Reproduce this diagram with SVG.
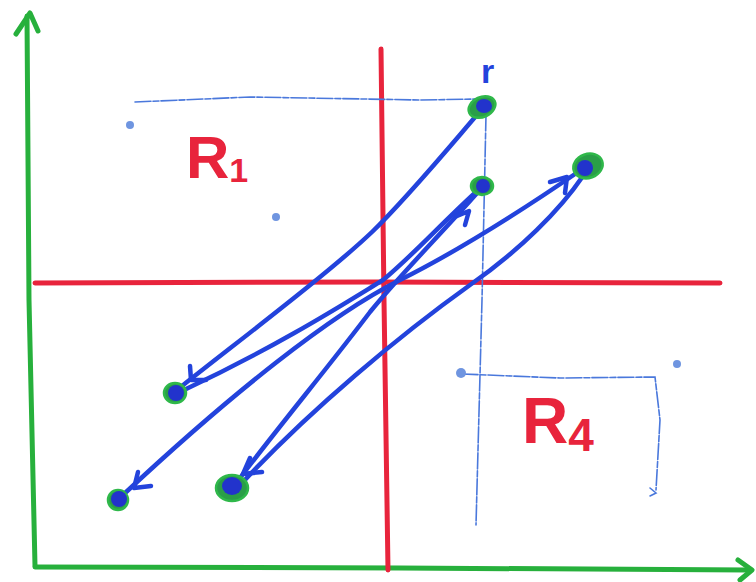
<svg xmlns="http://www.w3.org/2000/svg" width="756" height="582" viewBox="0 0 756 582">
<style>
.axis{fill:none;stroke:#27b03c;stroke-width:5;stroke-linecap:round;stroke-linejoin:round}
.red{fill:none;stroke:#e8243c;stroke-width:5;stroke-linecap:round}
.guide{fill:none;stroke:#4a78dc;stroke-width:1.6;stroke-dasharray:16 2 6 2;stroke-linecap:round}
.edge{fill:none;stroke:#2343dc;stroke-width:4.5;stroke-linecap:round;stroke-linejoin:round}
.head{fill:none;stroke:#2343dc;stroke-width:4.5;stroke-linecap:round;stroke-linejoin:round}
.ring{fill:#2a9e48;stroke:#2fb84a;stroke-width:2.5}
.core{fill:#2233cc}
.dot{fill:#6f95e0}
.lbl{font-family:"Liberation Sans",Arial,sans-serif;font-weight:bold;fill:#e8243c}
</style>
<rect width="756" height="582" fill="#ffffff"/>
<g id="axes">
<path class="axis" d="M27,16 L29,300 L35,566"/>
<path class="axis" d="M16,34 L30,13 L38,31"/>
<path class="axis" d="M35,567 L400,568 L748,570"/>
<path class="axis" d="M738,560 L752,570 L740,580"/>
</g>
<g id="quadrant-lines">
<path class="red" d="M381,49 L384,300 L388,570"/>
<path class="red" d="M35,283 L380,282 L720,283"/>
</g>
<g id="guides">
<path class="guide" d="M135,102 L250,97 L420,100 L480,99"/>
<path class="guide" d="M486,115 L482,300 L476,525"/>
<path class="guide" d="M462,374 L560,378 L655,377 L660,420 L656,490"/>
<circle class="dot" cx="130" cy="125" r="4"/>
<circle class="dot" cx="276" cy="217" r="4"/>
<circle class="dot" cx="461" cy="373" r="5"/>
<circle class="dot" cx="677" cy="364" r="4"/>
<path class="guide" style="stroke-dasharray:none" d="M650,488 L656,493 L650,496"/>
</g>
<g id="connectors">
<path class="edge" d="M476,116 C440,158 405,200 372,232 C330,272 240,340 182,386"/>
<path class="edge" d="M476,192 C440,225 410,258 383,280 C350,300 280,345 184,390"/>
<path class="edge" d="M578,172 C540,198 470,245 400,280 C330,315 230,395 124,494"/>
<path class="edge" d="M478,192 C440,235 400,275 370,312 C330,365 280,425 240,478"/>
<path class="edge" d="M583,176 C560,210 520,250 470,285 C400,335 310,410 243,482"/>
<path class="head" d="M190,366 L191,380 L206,380"/>
<path class="head" d="M138,472 L134,488 L151,486"/>
<path class="head" d="M250,458 L243,474 L262,472"/>
<path class="head" d="M457,216 L469,211 L465,225"/>
<path class="head" d="M550,182 L567,177 L565,193"/>
</g>
<g id="node-r">
<ellipse class="ring" cx="482" cy="107" rx="14" ry="10" transform="rotate(-25 482 107)"/>
<ellipse class="core" cx="484" cy="106" rx="8" ry="7"/>
<text x="481" y="83" font-family="Liberation Sans,Arial,sans-serif" font-weight="bold" font-size="34" fill="#2343dc">r</text>
</g>
<g id="node-b"><ellipse class="ring" cx="482" cy="186" rx="11" ry="9"/><circle class="core" cx="483" cy="186" r="7"/></g>
<g id="node-c"><ellipse class="ring" cx="588" cy="166" rx="15" ry="12" transform="rotate(-20 588 166)"/><circle class="core" cx="585" cy="168" r="8"/></g>
<g id="node-d"><ellipse class="ring" cx="175" cy="393" rx="11" ry="10"/><circle class="core" cx="176" cy="393" r="8"/></g>
<g id="node-e"><ellipse class="ring" cx="118" cy="500" rx="10" ry="10"/><circle class="core" cx="119" cy="499" r="8"/></g>
<g id="node-f"><ellipse class="ring" cx="232" cy="488" rx="16" ry="13"/><ellipse class="core" cx="232" cy="486" rx="10" ry="9"/></g>
<g id="label-R1"><text class="lbl" x="186" y="178" font-size="60">R<tspan font-size="34" dy="4">1</tspan></text></g>
<g id="label-R4"><text class="lbl" x="522" y="443" font-size="64">R<tspan font-size="46" dy="8">4</tspan></text></g>
</svg>
